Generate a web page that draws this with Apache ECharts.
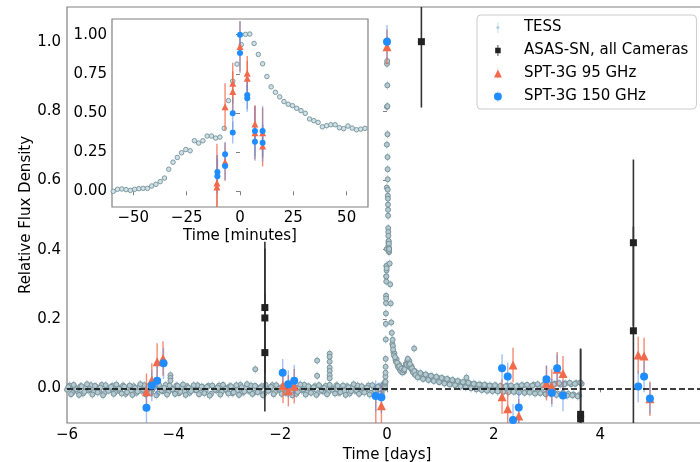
<!DOCTYPE html>
<html lang="en">
<head>
<meta charset="UTF-8">
<title>Relative Flux Density - TESS / ASAS-SN / SPT-3G</title>
<script src="https://cdn.jsdelivr.net/npm/echarts/dist/echarts.min.js"></script>
<style>
    html, body { margin: 0; padding: 0; background: #fff; }
    #chart { width: 700px; height: 462px; }
</style>
</head>
<body>
<div id="chart"></div>
<script>
// ---- TESS, quiescent part before the flare (days, relative flux)
var tessPreDays = [
    -6.00,-5.95,-5.90,-5.85,-5.80,-5.75,-5.70,-5.65,-5.60,-5.55,
    -5.50,-5.45,-5.40,-5.35,-5.30,-5.25,-5.20,-5.15,-5.10,-5.05,
    -5.00,-4.95,-4.90,-4.85,-4.80,-4.75,-4.70,-4.65,-4.60,-4.55,
    -4.50,-4.45,-4.40,-4.35,-4.30,-4.25,-4.20,-4.15,-4.10,-4.05,
    -4.00,-3.95,-3.90,-3.85,-3.80,-3.75,-3.70,-3.65,-3.60,-3.55,
    -3.50,-3.45,-3.40,-3.35,-3.30,-3.25,-3.20,-3.15,-3.10,-3.05,
    -3.00,-2.95,-2.90,-2.85,-2.80,-2.75,-2.70,-2.65,-2.60,-2.55,
    -2.50,-2.45,-2.40,-2.35,-2.30,-2.25,-2.20,-2.15,-2.10,-2.05,
    -2.00,-1.95,-1.90,-1.85,-1.80,-1.75,-1.70,-1.65,-1.60,-1.55,
    -1.50,-1.45,-1.40,-1.35,-1.30,-1.25,-1.20,-1.15,-1.10,-1.05,
    -1.00,-0.95,-0.90,-0.85,-0.80,-0.75,-0.70,-0.65,-0.60,-0.55,
    -0.50,-0.45,-0.40,-0.35,-0.30,-0.25,-0.20,-0.15,-0.10,-0.05
];
var tessPreFlux = [
    -0.004,0.008,-0.013,0.003,-0.009,0.006,-0.015,0.002,-0.006,0.009,
    -0.011,0.004,-0.008,0.010,-0.014,0.001,-0.005,0.007,-0.012,0.003,
    -0.009,0.008,-0.016,0.002,-0.006,0.006,-0.013,0.004,-0.007,0.009,
    -0.012,0.001,-0.004,0.007,-0.015,0.003,-0.008,0.010,-0.011,0.002,
    -0.006,0.008,-0.014,0.004,-0.009,0.006,-0.013,0.001,-0.005,0.009,
    -0.012,0.003,-0.007,0.007,-0.016,0.002,-0.006,0.008,-0.010,0.004,
    -0.008,0.006,-0.014,0.003,-0.005,0.010,-0.012,0.002,-0.007,0.008,
    -0.013,0.004,-0.009,0.006,-0.015,0.001,-0.004,0.009,-0.011,0.003,
    -0.007,0.007,-0.013,0.004,-0.008,0.008,-0.016,0.002,-0.006,0.010,
    -0.012,0.003,-0.005,0.006,-0.014,0.004,-0.009,0.007,-0.011,0.002,
    -0.006,0.009,-0.013,0.003,-0.008,0.006,-0.015,0.005,-0.007,0.008,
    -0.012,0.002,-0.005,0.008,-0.013,0.004,-0.009,0.006,-0.014,0.003
];
// second row of the same quiescent stretch, half a step later
var tessPreDays2 = [
    -5.975,-5.925,-5.875,-5.825,-5.775,-5.725,-5.675,-5.625,-5.575,-5.525,
    -5.475,-5.425,-5.375,-5.325,-5.275,-5.225,-5.175,-5.125,-5.075,-5.025,
    -4.975,-4.925,-4.875,-4.825,-4.775,-4.725,-4.675,-4.625,-4.575,-4.525,
    -4.475,-4.425,-4.375,-4.325,-4.275,-4.225,-4.175,-4.125,-4.075,-4.025,
    -3.975,-3.925,-3.875,-3.825,-3.775,-3.725,-3.675,-3.625,-3.575,-3.525,
    -3.475,-3.425,-3.375,-3.325,-3.275,-3.225,-3.175,-3.125,-3.075,-3.025,
    -2.975,-2.925,-2.875,-2.825,-2.775,-2.725,-2.675,-2.625,-2.575,-2.525,
    -2.475,-2.425,-2.375,-2.325,-2.275,-2.225,-2.175,-2.125,-2.075,-2.025,
    -1.975,-1.925,-1.875,-1.825,-1.775,-1.725,-1.675,-1.625,-1.575,-1.525,
    -1.475,-1.425,-1.375,-1.325,-1.275,-1.225,-1.175,-1.125,-1.075,-1.025,
    -0.975,-0.925,-0.875,-0.825,-0.775,-0.725,-0.675,-0.625,-0.575,-0.525,
    -0.475,-0.425,-0.375,-0.325,-0.275,-0.225,-0.175,-0.125,-0.075
];
var tessPreFlux2 = [
    0.004,-0.017,0.010,-0.003,-0.019,0.006,-0.010,0.012,-0.002,-0.018,
    0.007,-0.012,0.002,-0.020,0.009,-0.007,0.004,-0.016,0.011,-0.001,
    -0.015,0.005,-0.011,0.008,-0.019,0.001,-0.009,0.012,-0.004,-0.017,
    0.006,-0.013,0.003,-0.020,0.010,-0.006,0.001,-0.018,0.008,-0.003,
    -0.016,0.007,-0.010,0.011,-0.019,0.002,-0.008,0.009,-0.005,-0.017,
    0.005,-0.014,0.004,-0.021,0.008,-0.004,0.002,-0.018,0.010,-0.002,
    -0.015,0.006,-0.012,0.009,-0.019,0.003,-0.009,0.012,-0.006,-0.016,
    0.007,-0.011,0.001,-0.020,0.010,-0.007,0.004,-0.017,0.009,-0.001,
    -0.016,0.005,-0.012,0.008,-0.020,0.002,-0.010,0.011,-0.003,-0.018,
    0.006,-0.013,0.003,-0.019,0.009,-0.005,0.001,-0.017,0.010,-0.004,
    -0.015,0.007,-0.011,0.008,-0.019,0.003,-0.008,0.012,-0.005,-0.016,
    0.006,-0.012,0.002,-0.018,0.009,-0.006,0.004,-0.015,0.010
];

// ---- TESS around the flare peak, 2-minute cadence (minutes from peak)
var flareMinutes = [
    -59.4,-57.4,-55.4,-53.4,-51.4,-49.4,-47.4,-45.4,-43.4,-41.4,
    -39.4,-37.4,-35.4,-33.4,-31.4,-29.4,-27.4,-25.4,-23.4,-21.4,
    -19.4,-17.4,-15.4,-13.4,-11.4,-9.4,-7.4,-5.4,-3.4,-1.4,
    0.6,2.6,4.6,6.6,8.6,10.6,12.6,14.6,16.6,18.6,
    20.6,22.6,24.6,26.6,28.6,30.6,32.6,34.6,36.6,38.6,
    40.6,42.6,44.6,46.6,48.6,50.6,52.6,54.6,56.6,58.6
];
var flareFlux = [
    0.000,0.013,0.015,0.011,0.006,0.013,0.017,0.019,0.019,0.034,
    0.045,0.062,0.085,0.141,0.186,0.216,0.246,0.267,0.259,0.323,
    0.308,0.323,0.353,0.353,0.340,0.346,0.402,0.579,0.703,0.812,
    0.936,1.002,1.004,0.944,0.874,0.814,0.733,0.667,0.632,0.603,
    0.573,0.556,0.547,0.530,0.515,0.498,0.462,0.451,0.440,0.412,
    0.419,0.425,0.425,0.406,0.400,0.417,0.404,0.393,0.397,0.402
];

// ---- TESS decay after the flare (days)
var tessPostDays = [
    0.05,0.06,0.07,0.08,0.09,0.10,0.11,0.12,0.14,0.16,
    0.18,0.20,0.22,0.24,0.26,0.28,0.30,0.32,0.34,0.36,
    0.38,0.40,0.42,0.44,0.46,0.48,0.50,0.52,
    0.55,0.60,0.65,0.70,0.75,0.80,0.85,0.90,0.95,1.00,
    1.05,1.10,1.15,1.20,1.25,1.30,1.35,1.40,1.45,1.50,
    1.55,1.60,1.65,1.70,1.75,1.80,1.85,1.90,1.95,2.00,
    2.05,2.10,2.15,2.20,2.25,2.30,2.35,2.40,2.45,2.50,
    2.55,2.60,2.65,2.70,2.75,2.80,2.85,2.90,2.95,3.00,
    3.05,3.10,3.15,3.20,3.25,3.30,3.35,3.40,3.45,3.50,
    3.55,3.60,3.65
];
var tessPostFlux = [
    0.360,0.300,0.245,0.190,0.160,0.128,0.122,0.104,0.101,0.082,
    0.084,0.066,0.070,0.055,0.060,0.047,0.055,0.048,0.062,0.063,
    0.080,0.072,0.079,0.060,0.064,0.049,0.052,0.040,
    0.046,0.034,0.041,0.030,0.037,0.026,0.034,0.024,0.031,0.020,
    0.028,0.017,0.025,0.014,0.022,0.012,0.019,0.008,0.016,0.006,
    0.014,0.004,0.012,0.002,0.010,-0.002,0.009,-0.004,0.007,-0.005,
    0.006,-0.006,0.005,-0.008,0.007,-0.006,0.004,-0.009,0.006,-0.007,
    0.008,-0.010,0.005,-0.008,0.010,-0.012,0.006,-0.009,0.012,-0.014,
    0.010,-0.012,0.013,-0.015,0.011,-0.013,0.014,-0.016,0.012,-0.018,
    0.015,-0.020,0.013
];
var tessPostDays2 = [
    0.105,0.115,0.13,0.15,0.17,0.19,0.21,0.23,0.25,0.27,
    0.29,0.31,0.33,0.35,0.37,0.39,0.41,0.43,0.45,0.47,
    0.49,0.51,0.535,
    0.575,0.625,0.675,0.725,0.775,0.825,0.875,0.925,0.975,1.025,
    1.075,1.125,1.175,1.225,1.275,1.325,1.375,1.425,1.475,1.525,
    1.575,1.625,1.675,1.725,1.775,1.825,1.875,1.925,1.975,2.025,
    2.075,2.125,2.175,2.225,2.275,2.325,2.375,2.425,2.475,2.525,
    2.575,2.625,2.675,2.725,2.775,2.825,2.875,2.925,2.975,3.025,
    3.075,3.125,3.175,3.225,3.275,3.325,3.375,3.425,3.475,3.525,
    3.575,3.625
];
var tessPostFlux2 = [
    0.140,0.112,0.095,0.090,0.076,0.074,0.061,0.064,0.051,0.057,
    0.046,0.052,0.055,0.070,0.068,0.085,0.068,0.070,0.057,0.058,
    0.046,0.050,0.038,
    0.032,0.044,0.027,0.040,0.024,0.036,0.021,0.033,0.018,0.030,
    0.014,0.027,0.011,0.024,0.009,0.021,0.005,0.018,0.003,0.016,
    0.000,0.013,-0.003,0.011,-0.005,0.010,-0.007,0.008,-0.008,0.009,
    -0.009,0.007,-0.010,0.006,-0.011,0.008,-0.010,0.006,-0.012,0.009,
    -0.013,0.010,-0.012,0.008,-0.015,0.012,-0.014,0.009,-0.017,0.014,
    -0.016,0.011,-0.019,0.015,-0.018,0.012,-0.021,0.016,-0.020,0.013,
    -0.023,0.017
];

// ---- isolated TESS points standing above the band
var tessSpikeDays = [-4.06,-4.06,-4.06,-2.47,-1.31,-1.31,-1.075,-1.075,-1.075,-1.075,-1.075,-1.075,-1.075,0.51,1.49];
var tessSpikeFlux = [0.038,0.030,0.022,0.055,0.080,0.036,0.100,0.091,0.077,0.060,0.050,0.038,0.029,0.115,0.031];
var tessErr = 0.012;   // typical TESS error bar

// ---- ASAS-SN (days)
var asasDays = [-2.29,-2.29,-2.29,0.645,3.63,3.63,4.62,4.62];
var asasFlux = [0.233,0.203,0.103,1.000,-0.075,-0.088,0.420,0.166];
var asasErr  = [0.190,0.200,0.170,0.190,0.190,0.200,0.240,0.300];

// ---- SPT-3G 95 GHz (days)
var spt95Days = [-4.51,-4.41,-4.31,-4.20,-1.95,-1.85,-1.74,-0.21,-0.105,0.0,2.157,2.263,2.363,2.47,2.99,3.09,3.19,3.30,4.71,4.82,4.93];
var spt95Flux = [-0.010,0.024,0.077,0.086,0.008,-0.007,0.006,-0.110,-0.050,0.985,-0.024,-0.059,0.067,-0.080,0.015,0.005,0.055,0.043,0.096,0.093,-0.030];
var spt95Err  = [0.053,0.048,0.053,0.050,0.050,0.045,0.050,0.090,0.060,0.050,0.050,0.050,0.050,0.050,0.050,0.050,0.050,0.050,0.053,0.053,0.050];

// ---- SPT-3G 150 GHz (days)
var spt150Days = [-4.51,-4.41,-4.31,-4.19,-1.956,-1.85,-1.74,-0.212,-0.105,0.0,2.157,2.263,2.363,2.47,2.99,3.09,3.19,3.30,4.71,4.82,4.93];
var spt150Flux = [-0.056,0.008,0.022,0.072,0.045,0.012,0.022,-0.022,-0.026,1.000,0.058,0.034,-0.091,-0.055,0.026,-0.013,0.058,-0.021,0.005,0.034,-0.029];
var spt150Err  = [0.045,0.045,0.045,0.045,0.040,0.040,0.045,0.045,0.045,0.048,0.040,0.040,0.045,0.045,0.040,0.040,0.040,0.045,0.045,0.045,0.045];

// ---- inset: SPT-3G around the peak (minutes)
var spt95Min   = [-10.8,-10.8,-7.0,-7.0,-3.4,-3.4,0.0,3.4,3.4,7.0,7.0,10.6,10.6];
var spt95Peak  = [0.053,0.028,0.540,0.188,0.690,0.637,0.925,0.754,0.722,0.430,0.374,0.374,0.289];
var spt95PeakErr = [0.25,0.20,0.15,0.12,0.13,0.13,0.16,0.11,0.11,0.12,0.17,0.16,0.13];
var spt150Min  = [-10.6,-10.6,-7.0,-7.0,-3.4,-3.4,0.0,0.0,3.4,3.4,7.0,7.0,10.6,10.6];
var spt150Peak = [0.124,0.096,0.237,0.162,0.498,0.376,1.000,0.883,0.615,0.594,0.385,0.316,0.385,0.310];
var spt150PeakErr = [0.11,0.11,0.08,0.09,0.10,0.07,0.085,0.13,0.09,0.086,0.16,0.12,0.16,0.12];

// ---- ticks
var mainYTicks = [0, 0.2, 0.4, 0.6, 0.8, 1.0];
var insetXTicks = [-50, -25, 0, 25, 50];
var insetYTicks = [0, 0.25, 0.5, 0.75, 1.0];

var FONT = 'DejaVu Sans';
var FS = 15;
var SPINE = '#808080';
var RED = '#f26a4c';
var BLUE = '#1f8cff';

function zip(xs, ys, es) {
    return xs.map(function (x, i) { return es ? [x, ys[i], es[i]] : [x, ys[i]]; });
}
function minusFmt(v) {
    return v < 0 ? '\u2212' + Math.abs(v) : String(v);
}

function errorSeries(name, data, color, width, gridIdx, z) {
    return {
        name: name,
        type: 'custom',
        xAxisIndex: gridIdx,
        yAxisIndex: gridIdx,
        clip: true,
        z: z,
        silent: true,
        encode: { x: 0, y: 1 },
        data: data,
        renderItem: function (params, api) {
            var x = api.value(0), y = api.value(1), e = api.value(2);
            var p1 = api.coord([x, y - e]);
            var p2 = api.coord([x, y + e]);
            return {
                type: 'line',
                shape: { x1: p1[0], y1: p1[1], x2: p2[0], y2: p2[1] },
                style: { stroke: color, lineWidth: width }
            };
        }
    };
}

// TESS for the main panel: the flare minutes are turned into days
var tessMain = zip(tessPreDays, tessPreFlux)
    .concat(zip(tessPreDays2, tessPreFlux2))
    .concat(flareMinutes.map(function (m, i) { return [m / 1440, flareFlux[i]]; }))
    .concat(zip(tessPostDays, tessPostFlux))
    .concat(zip(tessPostDays2, tessPostFlux2))
    .concat(zip(tessSpikeDays, tessSpikeFlux));
var tessMainErr = tessMain.map(function (p) { return [p[0], p[1], tessErr]; });

var chart = echarts.init(document.getElementById('chart'));

var axisText = { color: '#000', fontSize: FS, fontFamily: FONT };

var option = {
    animation: false,
    backgroundColor: '#fff',
    textStyle: { fontFamily: FONT },
    grid: [
        { left: 67, top: 7, width: 640, height: 416, outerBoundsMode: 'none', show: true, borderColor: SPINE, borderWidth: 1.2, backgroundColor: 'transparent' },
        { left: 112, top: 19, width: 256, height: 188, outerBoundsMode: 'none', show: true, borderColor: SPINE, borderWidth: 1.2, backgroundColor: '#fff' }
    ],
    legend: {
        left: 477,
        top: 15,
        orient: 'vertical',
        itemWidth: 42,
        itemHeight: 11,
        itemGap: 8,
        padding: [5, 8, 5, 17],
        backgroundColor: 'rgba(255,255,255,0.85)',
        borderColor: '#cccccc',
        borderWidth: 1,
        borderRadius: 4,
        textStyle: { fontSize: FS, color: '#000', fontFamily: FONT },
        data: [
            { name: 'TESS', icon: 'path://M4.6,0 L5.4,0 L5.4,14 L4.6,14 Z M5,5 A2,2 0 1,1 4.99,5 Z', itemStyle: { color: '#a9cde0', borderWidth: 0 } },
            { name: 'ASAS-SN, all Cameras', icon: 'path://M4.5,0 L5.5,0 L5.5,3.5 L8.5,3.5 L8.5,10.5 L5.5,10.5 L5.5,14 L4.5,14 L4.5,10.5 L1.5,10.5 L1.5,3.5 L4.5,3.5 Z', itemStyle: { color: '#222', borderWidth: 0 } },
            { name: 'SPT-3G 95 GHz', icon: 'path://M4.8,0 L5.2,0 L5.2,14 L4.8,14 Z M5,2 L10,12 L0,12 Z', itemStyle: { color: RED, borderWidth: 0 } },
            { name: 'SPT-3G 150 GHz', icon: 'path://M4.8,0 L5.2,0 L5.2,14 L4.8,14 Z M5,2 A5,5 0 1,1 4.99,2 Z', itemStyle: { color: BLUE, borderWidth: 0 } }
        ]
    },
    xAxis: [
        {
            gridIndex: 0, type: 'value', min: -6, max: 6, interval: 2,
            name: 'Time [days]', nameLocation: 'middle', nameGap: 18,
            nameTextStyle: axisText,
            axisLine: { show: false },
            axisTick: { show: true, length: 4, lineStyle: { color: SPINE } },
            axisLabel: { margin: 4.5, formatter: minusFmt, color: '#000', fontSize: FS, fontFamily: FONT },
            splitLine: { show: false }
        },
        {
            gridIndex: 1, type: 'value', min: -60, max: 60,
            name: 'Time [minutes]', nameLocation: 'middle', nameGap: 22,
            nameTextStyle: axisText,
            axisLine: { show: false },
            axisTick: { show: true, length: 4, customValues: insetXTicks, lineStyle: { color: SPINE } },
            axisLabel: { margin: 4, customValues: insetXTicks, formatter: minusFmt, color: '#000', fontSize: FS, fontFamily: FONT },
            splitLine: { show: false }
        }
    ],
    yAxis: [
        {
            gridIndex: 0, type: 'value', min: -0.1, max: 1.1,
            name: 'Relative Flux Density', nameLocation: 'middle', nameGap: 33, nameMoveOverlap: false,
            nameTextStyle: axisText,
            axisLine: { show: false },
            axisTick: { show: true, length: 4, customValues: mainYTicks, lineStyle: { color: SPINE } },
            axisLabel: { margin: 6, customValues: mainYTicks, formatter: function (v) { return v.toFixed(1); }, color: '#000', fontSize: FS, fontFamily: FONT },
            splitLine: { show: false }
        },
        {
            gridIndex: 1, type: 'value', min: -0.1, max: 1.1,
            axisLine: { show: false },
            axisTick: { show: true, length: 4, customValues: insetYTicks, lineStyle: { color: SPINE } },
            axisLabel: { margin: 5, customValues: insetYTicks, formatter: function (v) { return v.toFixed(2); }, color: '#000', fontSize: FS, fontFamily: FONT },
            splitLine: { show: false }
        }
    ],
    series: [
        errorSeries('tessErr', tessMainErr, 'rgba(160,205,225,0.9)', 1, 0, 1),
        {
            name: 'TESS', type: 'scatter', xAxisIndex: 0, yAxisIndex: 0, z: 2,
            symbol: 'circle', symbolSize: 5,
            itemStyle: { color: '#b2cad2', borderColor: '#7b9198', borderWidth: 1, opacity: 1 },
            data: tessMain
        },
        {
            name: 'zero', type: 'scatter', xAxisIndex: 0, yAxisIndex: 0, z: 3, data: [],
            markLine: {
                silent: true, symbol: 'none', label: { show: false },
                lineStyle: { color: '#000', width: 1.6, type: [6, 3] },
                data: [{ yAxis: 0 }]
            }
        },
        errorSeries('asasErr', zip(asasDays, asasFlux, asasErr), '#333', 1.6, 0, 4),
        errorSeries('spt95Err', zip(spt95Days, spt95Flux, spt95Err), 'rgba(240,100,70,0.75)', 1.4, 0, 4),
        errorSeries('spt150Err', zip(spt150Days, spt150Flux, spt150Err), 'rgba(90,140,230,0.55)', 1.4, 0, 4),
        {
            name: 'ASAS-SN, all Cameras', type: 'scatter', xAxisIndex: 0, yAxisIndex: 0, z: 5,
            symbol: 'rect', symbolSize: 7, itemStyle: { color: '#222', opacity: 1 },
            data: zip(asasDays, asasFlux)
        },
        {
            name: 'SPT-3G 95 GHz', type: 'scatter', xAxisIndex: 0, yAxisIndex: 0, z: 5,
            symbol: 'triangle', symbolSize: 9, itemStyle: { color: RED, opacity: 1 },
            data: zip(spt95Days, spt95Flux)
        },
        {
            name: 'SPT-3G 150 GHz', type: 'scatter', xAxisIndex: 0, yAxisIndex: 0, z: 6,
            symbol: 'circle', symbolSize: 8, itemStyle: { color: BLUE, opacity: 1 },
            data: zip(spt150Days, spt150Flux)
        },
        // inset
        {
            name: 'TESS inset', type: 'scatter', xAxisIndex: 1, yAxisIndex: 1, z: 2,
            symbol: 'circle', symbolSize: 4.5,
            itemStyle: { color: '#cfe2e8', borderColor: '#7f9aa0', borderWidth: 1, opacity: 1 },
            data: zip(flareMinutes, flareFlux)
        },
        errorSeries('spt95PeakErr', zip(spt95Min, spt95Peak, spt95PeakErr), 'rgba(240,100,70,0.75)', 1.4, 1, 4),
        errorSeries('spt150PeakErr', zip(spt150Min, spt150Peak, spt150PeakErr), 'rgba(90,140,230,0.55)', 1.4, 1, 4),
        {
            name: 'SPT-3G 95 GHz inset', type: 'scatter', xAxisIndex: 1, yAxisIndex: 1, z: 5,
            symbol: 'triangle', symbolSize: 7, itemStyle: { color: RED, opacity: 1 },
            data: zip(spt95Min, spt95Peak)
        },
        {
            name: 'SPT-3G 150 GHz inset', type: 'scatter', xAxisIndex: 1, yAxisIndex: 1, z: 6,
            symbol: 'circle', symbolSize: 6, itemStyle: { color: BLUE, opacity: 1 },
            data: zip(spt150Min, spt150Peak)
        }
    ]
};

chart.setOption(option);
</script>
</body>
</html>
